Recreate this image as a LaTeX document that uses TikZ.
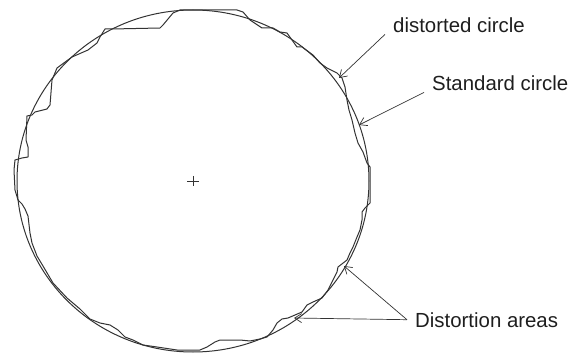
\documentclass[tikz,border=0pt]{standalone}
\usepackage{fontspec}
\setmainfont{Liberation Sans}
\usetikzlibrary{arrows.meta}
\definecolor{cline}{HTML}{333333}
\definecolor{ctext}{HTML}{1E1E1E}
\tikzset{
  every picture/.style={x=1pt, y=-1pt},
  outline/.style={draw=cline, line width=1pt, line join=round},
  label/.style={font=\fontsize{20.4}{24}\selectfont, text=ctext, inner xsep=8pt, inner ysep=1pt},
  pointer/.style={-{Straight Barb[length=7pt, width=9pt]}, draw=cline, line width=0.7pt},
}
\begin{document}
\begin{tikzpicture}
  \useasboundingbox (0,0) rectangle (574,353);
  \coordinate (O) at (193,181);
  % standard circle and centre mark
  \draw[outline] (O) ellipse [x radius=176pt, y radius=171pt];
  \draw[cline, line width=0.7pt] (O) ++(-6,0) -- ++(12,0) (O) ++(0,-5) -- ++(0,10);
  % distorted circle
  \draw[outline] (180,10) -- (237,10) -- (243,12) -- (250,20) -- (262,28) -- (273,28) -- (280,32)
    -- (287,33) -- (292,40) -- (297,47) -- (302,47) -- (313,55) -- (320,63) -- (327,68) -- (337,73)
    -- (342,78) -- (345,87) -- (347,100) -- (349,110) -- (352,120) -- (355,133) -- (358,143)
    -- (363,152) -- (367,163) -- (370,167) -- (370,203) -- (365,208) -- (362,212) -- (362,220)
    -- (360,230) -- (357,237) -- (353,247) -- (350,253) -- (347,260) -- (338,267) -- (337,272)
    -- (333,280) -- (328,290) -- (322,298) -- (313,302) -- (307,305) -- (302,312) -- (295,315)
    -- (288,318) -- (282,319) -- (277,323) -- (273,330) -- (267,337) -- (260,339) -- (250,341)
    -- (240,340) -- (228,340) -- (220,340) -- (215,342) -- (207,347) -- (200,350) -- (177,350)
    -- (157,347) -- (143,345) -- (133,340) -- (125,337) -- (118,330) -- (110,325) -- (100,323)
    -- (90,319) -- (80,309) -- (67,298) -- (53,283) -- (43,266) -- (37,256) -- (32,243)
    -- (30,233) -- (28,216) -- (25,209) -- (22,204) -- (18,200) -- (15,190) -- (14,170)
    -- (15,160) -- (22,158) -- (28,157) -- (28,147) -- (26,140) -- (27,116) -- (32,115)
    -- (35,112) -- (47,109) -- (50,105) -- (52,80) -- (57,68) -- (72,57) -- (88,50) -- (97,43)
    -- (100,37) -- (105,29) -- (112,29) -- (160,28) -- (163,25) -- (173,13) -- cycle;
  % labels
  \node[label, anchor=base west] (distlab) at (385,33) {distorted circle};
  \node[label, anchor=base west] (stdlab) at (424,91) {Standard circle};
  \node[label, anchor=base west] (arealab) at (407,327) {Distortion areas};
  \coordinate (distpt) at (339,78);
  \coordinate (stdpt) at (359,125);
  \coordinate (areaA) at (344,266);
  \coordinate (areaB) at (294,318);
  \draw[pointer] (distlab.south west) -- (distpt);
  \draw[pointer] (stdlab.south west) -- (stdpt);
  \draw[pointer] (arealab.west) -- (areaA);
  \draw[pointer] (arealab.west) -- (areaB);
\end{tikzpicture}
\end{document}
